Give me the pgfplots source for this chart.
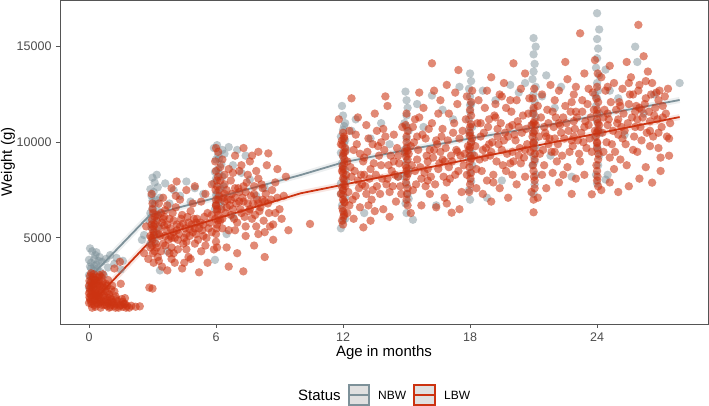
\documentclass[border=0pt]{standalone}
\usepackage{pgfplots}
\pgfplotsset{compat=1.18}
\usepackage{fontspec}
\setmainfont{Liberation Sans}
\definecolor{nbw}{HTML}{7D9199}
\definecolor{lbw}{HTML}{CC3311}
\definecolor{gtxt}{HTML}{4D4D4D}
\definecolor{gframe}{HTML}{555555}
\begin{document}
\begin{tikzpicture}
\begin{axis}[
  at={(0pt,0pt)}, anchor=south west,
  scale only axis, width=648pt, height=324pt,
  xmin=-1.37, xmax=29.24, ymin=497, ymax=17442,
  xtick={0,6,12,18,24}, xticklabels={0,6,12,18,24},
  ytick={5000,10000,15000}, yticklabels={5000,10000,15000},
  tick align=outside, tick pos=left, major tick length=4pt,
  axis line style={gframe, line width=0.9pt},
  every tick/.style={gframe, line width=0.9pt},
  ticklabel style={font=\fontsize{12.5}{14}\selectfont, text=gtxt},
  yticklabel style={xshift=-1pt},
  xticklabel style={yshift=-1pt},
  xlabel={Age in months}, ylabel={Weight (g)},
  label style={font=\fontsize{15}{17}\selectfont},
  xlabel style={at={(axis description cs:0.5,0)}, anchor=center, yshift=-29pt},
  ylabel style={at={(axis description cs:0,0.5)}, anchor=center, yshift=52pt},
  clip=true,
]
% NBW points
\addplot[only marks, mark=*, mark size=4.2pt, color=nbw, mark options={draw opacity=0, fill=nbw, fill opacity=0.5}] coordinates {
(0.0,2400)(0.05,2650)(0.1,2900)(0.15,3100)(0.2,3300)(0.05,3500)(0.1,3700)(0.25,3900)(0.3,4100)(0.15,4300)(0.05,4450)(0.35,3600)(0.4,3400)(0.45,3800)(0.5,4000)(0.55,3200)(0.3,2800)(0.2,2550)(0.0,3050)(0.1,3400)(0.25,3550)(0.6,3750)(0.35,4250)(0.45,2950)(0.0,3850)
(0.8,3900)(1.0,4100)(1.2,3650)(1.5,3350)(0.9,3450)(1.3,3950)(0.7,3050)(1.6,3800)
(2.9,4700)(3.0,5000)(3.1,5300)(2.95,5550)(3.05,5800)(3.2,6050)(2.9,6300)(3.0,6550)(3.1,6750)(3.15,7000)(2.95,7200)(3.05,7400)(3.25,7650)(3.1,7900)(3.0,8150)(3.2,8300)(3.3,6400)(2.85,5900)(3.2,5200)(3.35,7100)(3.1,4800)(3.0,6950)(2.9,7550)(3.15,6200)(3.3,5600)
(3.6,7850)(4.0,7500)(4.6,7950)(4.3,7200)(3.8,6800)(5.0,7600)(5.4,7300)(3.35,3300)(2.6,5150)(2.5,4900)(4.8,6900)(3.7,4300)
(5.95,6500)(6.0,6800)(6.1,7100)(6.05,7350)(6.2,7600)(5.9,7850)(6.0,8100)(6.15,8350)(6.1,8600)(6.25,8850)(6.0,9100)(6.1,9350)(6.3,9600)(6.05,9850)(6.2,6900)(6.35,7700)(5.95,8450)(6.3,8200)(6.15,9150)(6.4,9400)(6.0,7250)(6.25,6650)(5.9,9700)
(6.6,9750)(7.0,9600)(7.4,9300)(6.8,8800)(7.2,8400)(7.6,8050)(5.95,3850)(6.5,5200)(6.8,6100)(7.9,7200)(8.3,7600)
(11.9,5500)(12.0,5900)(12.05,6300)(11.95,6700)(12.1,7100)(12.0,7500)(11.9,7850)(12.05,8200)(12.1,8550)(11.95,8900)(12.0,9250)(12.15,9600)(12.05,9950)(11.9,10300)(12.0,10650)(12.1,11000)(12.0,11400)(11.95,11900)(12.1,6000)(11.9,7300)(12.15,8000)(12.0,8700)(11.9,9450)(12.1,10100)(12.05,10850)
(12.6,11200)(13.3,10200)(13.8,11000)(12.4,10600)(14.2,9900)(13.0,6300)(14.6,8200)
(15.0,6300)(14.95,6800)(15.05,7300)(15.0,7800)(14.9,8200)(15.1,8600)(15.0,9000)(14.95,9400)(15.05,9800)(15.0,10200)(15.1,10600)(14.9,11000)(15.0,11400)(15.05,11800)(15.0,12200)(14.95,12650)(15.1,7050)(14.9,9600)(15.0,10800)(15.05,8400)
(15.5,12000)(16.2,12450)(16.7,11700)(15.8,10800)(16.4,6700)(17.2,11200)(15.3,5950)
(18.0,7000)(17.95,7500)(18.05,7950)(18.0,8400)(18.1,8800)(17.95,9200)(18.0,9600)(18.05,10000)(18.0,10400)(18.1,10800)(17.95,11200)(18.0,11600)(18.05,12000)(18.0,12400)(17.95,12800)(18.05,13200)(18.0,13600)(18.1,9400)(17.95,10600)(18.0,11950)
(18.6,12700)(19.2,12200)(19.9,13000)(18.8,7100)(19.5,8000)(20.3,12600)(17.5,12900)
(21.0,7300)(21.05,7800)(21.1,8300)(20.95,8800)(21.0,9300)(21.1,9700)(21.05,10100)(21.0,10500)(20.95,10900)(21.1,11300)(21.0,11700)(21.05,12100)(21.0,12500)(21.1,12900)(20.95,13300)(21.0,13700)(21.05,14100)(21.0,14600)(21.1,15000)(21.0,15450)(21.05,9000)(20.95,11500)
(21.4,12400)(21.6,13500)(22.0,11800)(22.3,12900)(21.8,9300)(20.6,13100)(22.8,8200)
(24.0,7850)(23.95,8300)(24.05,8800)(24.1,9300)(24.0,9800)(23.9,10250)(24.05,10700)(24.0,11100)(24.1,11500)(23.95,11900)(24.0,12300)(24.05,12700)(24.0,13100)(24.1,13500)(23.95,13900)(24.0,14400)(24.05,14900)(24.0,15400)(24.1,15900)(24.0,16750)(24.15,10500)(23.9,12500)(24.05,9600)
(24.4,13800)(24.6,12700)(25.0,12300)(25.8,15000)(25.9,14200)(25.3,10400)(26.2,11500)(24.5,8300)(27.9,13100)(26.7,12500)(24.4,8050)
};
% LBW points
\addplot[only marks, mark=*, mark size=4.2pt, color=lbw, mark options={draw opacity=0, fill=lbw, fill opacity=0.58}] coordinates {
(0.0,1600)(0.05,1800)(0.1,2000)(0.15,2200)(0.2,2400)(0.25,2600)(0.3,2800)(0.0,2100)(0.05,2350)(0.1,2700)(0.15,1900)(0.2,1700)(0.25,1500)(0.3,2100)(0.35,2300)(0.4,1800)(0.45,2000)(0.5,2500)(0.55,1650)(0.6,2200)(0.35,2650)(0.4,2950)(0.05,3000)(0.1,3150)(0.2,2950)(0.0,2500)(0.45,1550)(0.5,1900)(0.6,1700)(0.7,2000)(0.75,1500)(0.8,1750)(0.7,2400)(0.85,2200)(0.9,1600)(1.0,1400)(1.1,1650)(1.2,1450)(1.3,1550)(1.4,1350)(1.5,1500)(1.6,1400)(1.7,1550)(1.8,1450)(2.0,1450)(2.2,1400)(2.4,1420)(1.0,1900)(1.2,2200)(1.5,2600)(1.46,3750)(1.2,3400)(0.9,2800)(0.65,3100)(1.7,1850)(0.3,1400)(0.15,1350)(0.55,1350)
(0.08,1700)(0.18,2050)(0.28,2250)(0.38,2500)(0.48,2750)(0.58,2950)(0.12,2450)(0.22,2800)(0.32,1950)(0.42,2150)(0.52,2300)(0.62,2550)(0.02,1900)(0.12,1550)(0.27,1750)(0.47,1750)(0.67,1900)(0.77,2300)(0.87,1900)(0.97,1700)(1.07,1500)(0.62,1500)(0.37,1600)(0.22,3100)(0.02,2750)(0.5,3050)(0.8,2600)(1.1,2500)(1.3,1800)(1.6,1650)(1.9,1350)(1.25,1350)(0.95,1350)
(0.75,1650)(0.85,1450)(0.95,2050)(1.05,1800)(1.15,1600)(1.25,1950)(1.35,1700)(1.45,1450)(1.55,1800)(1.65,1550)(1.75,1350)(1.05,2300)(0.85,2500)(0.65,2700)(0.45,2600)(0.25,2050)(0.05,2200)(0.15,2600)(0.35,1950)(0.55,2100)
(2.9,4500)(3.0,4900)(3.05,5300)(2.95,5700)(3.1,6100)(3.0,6500)(2.9,5100)(3.1,4300)(3.2,5900)(3.3,5500)(3.4,6300)(3.5,4700)(3.6,5100)(3.7,5700)(3.8,6000)(3.9,4500)(4.0,5300)(4.1,6600)(4.2,4900)(4.3,5600)(4.4,6200)(4.5,5000)(4.6,4400)(4.7,5800)(4.8,6400)(4.9,5300)(5.0,4700)(5.1,6000)(5.2,5500)(5.3,6900)(5.4,5100)(5.5,4600)(5.6,6300)(5.7,5800)(5.8,5300)(5.9,4400)(6.0,6700)(3.25,4000)(3.45,3500)(3.7,3300)(4.05,3700)(4.4,3400)(4.8,3900)(5.2,3200)(5.6,3700)(2.85,2400)(3.0,2350)(2.6,4200)(2.7,5600)(3.5,7100)(3.9,7600)(4.14,7950)(4.6,7500)(5.0,7700)(5.5,7300)(5.8,7800)(3.3,6800)(4.3,7000)(4.7,4000)(3.6,6450)(4.0,4200)(5.3,4300)
(2.95,5000)(3.05,5600)(3.15,4700)(3.25,6200)(3.35,5100)(3.45,5800)(3.55,6100)(3.65,5400)(3.75,4900)(3.85,5500)(3.95,6300)(4.05,5000)(4.15,5700)(4.25,5200)(4.35,6000)(4.45,4700)(4.55,5500)(4.65,6100)(4.75,5100)(4.85,5700)(4.95,6000)(5.05,5200)(5.15,4900)(5.25,5800)(5.35,5400)(5.45,6100)(5.55,5000)(5.65,5500)(3.1,5700)(3.2,4500)(3.4,4300)(3.6,4600)(3.8,4200)(4.2,4400)(4.6,4800)(5.0,5500)(5.8,6200)(6.1,5900)(3.3,3800)(3.9,3900)(4.5,3700)(2.8,3900)(4.9,6800)(4.1,7200)(3.7,6700)
(3.02,4200)(2.97,4600)(3.06,5150)(3.0,5450)(2.98,5950)(3.04,6300)(3.0,6800)(2.96,7300)(3.05,3700)(3.3,5200)(3.55,5650)(3.85,5100)(4.15,5400)(4.45,5750)(4.75,5450)(5.05,5800)(3.5,6000)(4.0,5900)(4.6,5200)(5.4,5700)(3.9,5000)
(6.0,5200)(6.05,5700)(6.1,6200)(6.0,6700)(6.15,7200)(6.05,7700)(6.1,8200)(6.2,8700)(6.0,4800)(6.3,6000)(6.4,6900)(6.5,7500)(6.6,5400)(6.7,8000)(6.8,6500)(6.9,7100)(7.0,5800)(7.1,8500)(7.2,6300)(7.3,7700)(7.4,5100)(7.5,6800)(7.6,9000)(7.7,6000)(7.8,7300)(7.9,5600)(8.0,8100)(8.1,6600)(8.2,7600)(8.3,5300)(8.4,8800)(8.5,6300)(8.6,7000)(8.7,5700)(8.8,7900)(9.0,6500)(9.2,7200)(9.42,5400)(6.5,4500)(7.0,4200)(7.29,3250)(7.8,4600)(8.3,4000)(6.9,9300)(7.3,9700)(8.47,9420)(8.0,9500)(6.3,9100)(6.8,8400)(7.5,8300)(8.9,8600)(9.3,8200)(6.2,5900)(6.7,6200)(7.6,6500)(8.2,7000)(6.4,7800)(7.1,7400)(6.6,3500)(8.7,4900)
(6.05,6400)(6.1,7000)(6.15,7500)(6.2,8000)(6.25,6500)(6.35,7100)(6.45,6300)(6.55,7000)(6.65,6700)(6.75,7300)(6.85,6000)(6.95,6800)(7.05,7600)(7.15,6500)(7.25,7100)(7.35,6100)(7.45,7900)(7.55,6400)(7.65,7200)(7.75,6800)(7.85,6200)(7.95,7000)(8.05,6400)(8.15,7800)(8.25,5900)(8.35,7300)(8.45,6800)(8.55,5600)(8.65,7500)(8.8,6300)(6.3,5500)(6.9,5400)(7.4,5600)(8.0,5200)(6.6,8600)(7.2,8800)(7.9,8500)(6.1,9500)(6.4,8300)(7.7,9300)(8.9,7100)(9.1,6000)
(6.02,5500)(5.97,6000)(6.06,6500)(6.0,7000)(5.98,7500)(6.04,8000)(6.0,8500)(5.96,9000)(6.05,4500)(6.0,9700)(6.4,7300)(6.9,7600)(7.3,6900)(7.8,7700)(8.3,6900)(6.7,7000)(7.4,7400)(8.0,6800)(6.5,6600)(7.1,6900)
(11.95,5900)(12.0,6400)(12.05,6900)(11.9,7300)(12.1,7700)(12.0,8100)(11.95,8500)(12.05,8900)(12.0,9300)(12.1,9700)(11.95,10100)(12.0,10500)(12.05,6200)(12.0,7500)(12.4,8200)(12.6,7200)(12.8,9400)(13.0,8300)(13.2,6700)(13.4,9900)(13.6,7700)(13.8,8800)(14.0,10300)(14.2,7400)(14.4,9000)(14.6,8200)(14.8,10800)(12.3,10600)(12.7,11300)(13.1,10900)(13.5,11500)(14.1,11900)(12.5,6000)(12.96,5550)(13.3,5900)(13.9,6500)(14.5,6900)(12.2,9000)(12.9,7800)(13.7,9300)(14.3,8500)(12.5,9600)(13.1,7300)(14.7,7700)(12.8,6600)(13.6,10600)(12.4,12300)(11.8,11200)(10.44,5730)(14.0,12400)(13.3,8600)(12.15,8300)(11.9,9900)(14.9,9500)
(12.0,7000)(12.05,7800)(12.0,8600)(12.1,9500)(12.05,10200)(12.25,7400)(12.35,8700)(12.45,7000)(12.55,8500)(12.65,9900)(12.75,7600)(12.85,8300)(12.95,9000)(13.05,7700)(13.15,9500)(13.25,8100)(13.35,7000)(13.45,8900)(13.55,8300)(13.65,9800)(13.75,7300)(13.85,8100)(13.95,9600)(14.05,7800)(14.15,8800)(14.25,9300)(14.35,7700)(14.45,8300)(14.55,9700)(14.65,8900)(14.75,7300)(12.3,6700)(12.7,8000)(13.2,10200)(13.9,10700)(14.4,10400)(12.2,6300)(13.5,6400)(14.2,6100)(12.6,10400)
(12.02,6100)(11.97,6550)(12.08,6850)(12.0,7250)(11.96,7650)(12.06,8050)(12.0,8400)(11.98,8750)(12.07,9100)(12.02,9450)(11.97,9850)(12.05,10300)(12.0,5700)(13.0,9200)(13.8,10000)(14.6,9300)(13.4,7500)(14.1,8100)
(15.0,7000)(15.05,7600)(15.0,8200)(14.95,8800)(15.1,9400)(15.0,10000)(15.05,10600)(15.3,7500)(15.5,9100)(15.7,8100)(15.9,10200)(16.1,7300)(16.3,9600)(16.5,8600)(16.7,10700)(16.9,7900)(17.1,9300)(17.3,8300)(17.5,10200)(17.7,8800)(17.9,9800)(15.4,11200)(15.8,11800)(16.2,11000)(16.6,12200)(17.0,11500)(17.4,12000)(17.8,11200)(16.2,14130)(17.45,13780)(15.6,12600)(16.9,13000)(15.2,6300)(15.7,6700)(16.4,6600)(17.13,6320)(17.5,6500)(16.8,7100)(15.4,8500)(16.0,9000)(16.6,9500)(17.2,10500)(17.6,7400)(15.9,7700)(16.4,10100)(15.0,11500)(17.0,8700)(15.2,9800)(16.3,12700)(17.85,12400)
(15.0,8500)(15.05,9100)(15.0,9700)(15.25,8800)(15.35,10000)(15.45,7800)(15.55,9600)(15.65,8700)(15.75,10400)(15.85,8400)(15.95,9300)(16.05,10700)(16.15,8200)(16.25,9200)(16.35,7800)(16.45,9900)(16.55,8900)(16.65,10300)(16.75,8200)(16.85,9700)(16.95,10100)(17.05,8100)(17.15,9000)(17.25,11000)(17.35,9600)(17.45,8500)(17.55,9300)(17.65,10600)(17.75,9400)(17.85,8300)(15.6,11300)(16.5,11500)(17.3,12600)(15.3,10800)(16.9,6800)(16.0,8000)
(15.02,7300)(14.97,7900)(15.06,8350)(15.0,8650)(14.98,9250)(15.04,9550)(15.0,10300)(14.96,10900)(15.05,6700)(15.5,10300)(16.1,9600)(16.8,9000)(17.4,9500)(16.0,8600)(16.7,9100)
(18.0,7800)(18.05,8400)(18.0,9000)(17.95,9600)(18.1,10200)(18.0,10800)(18.05,11400)(18.3,8600)(18.5,10300)(18.7,9200)(18.9,11200)(19.1,8300)(19.3,10700)(19.5,9600)(19.7,11800)(19.9,8900)(20.1,10400)(20.3,9300)(20.5,11400)(20.7,9900)(20.9,10900)(18.4,12200)(18.8,12700)(19.2,12000)(19.6,13100)(20.05,14130)(20.4,12800)(20.8,12300)(18.6,7300)(19.0,6900)(19.4,7600)(19.8,7100)(20.2,7800)(20.6,8200)(18.2,9300)(18.9,9900)(19.6,10100)(20.3,10800)(19.2,11300)(18.5,11000)(20.0,9500)(19.0,13400)(20.6,13600)(18.8,8000)(19.7,8500)(20.4,8900)(18.1,12700)(19.4,12500)(20.9,7400)(19.9,12200)
(18.0,9300)(18.05,10000)(18.0,10500)(18.25,9800)(18.35,11000)(18.45,9100)(18.55,8500)(18.65,10500)(18.75,9700)(18.85,10800)(18.95,9300)(19.05,10000)(19.15,11400)(19.25,9000)(19.35,9900)(19.45,11000)(19.55,8800)(19.65,10500)(19.75,9400)(19.85,10800)(19.95,11600)(20.05,9000)(20.15,10100)(20.25,11100)(20.35,9700)(20.45,10500)(20.55,9200)(20.65,10700)(20.75,11500)(20.85,9500)(18.7,11800)(19.5,12400)(20.2,12200)(19.1,7900)(20.0,8300)(18.3,7600)
(18.02,8100)(17.97,8700)(18.06,9150)(18.0,9750)(17.98,10350)(18.04,10950)(18.0,11700)(17.96,7400)(18.05,12100)(18.6,9600)(19.3,10300)(20.0,10900)(20.6,9600)(19.0,9500)(19.8,10300)
(21.0,8500)(21.05,9100)(21.0,9700)(20.95,10300)(21.1,10900)(21.0,11500)(21.05,8000)(21.3,9400)(21.5,10800)(21.7,9900)(21.9,11600)(22.1,9000)(22.3,10500)(22.5,11900)(22.7,9500)(22.9,11100)(23.1,10100)(23.3,12200)(23.5,9700)(23.7,11300)(23.9,10600)(21.4,12500)(21.8,13000)(22.2,12700)(22.6,13300)(23.0,12900)(23.4,13600)(23.8,12600)(23.2,15700)(22.5,14200)(21.0,6340)(21.6,7600)(22.2,7900)(22.8,7300)(23.75,7280)(23.4,8300)(21.9,8400)(22.6,8700)(23.0,8100)(21.2,11900)(22.0,10200)(22.9,10300)(23.6,10900)(21.7,11000)(22.4,11300)(23.3,11600)(21.4,8300)(22.8,12100)(23.9,14300)(21.2,7100)
(21.0,10000)(21.05,10600)(21.0,11000)(21.25,10300)(21.35,11300)(21.45,9600)(21.55,10500)(21.65,11700)(21.75,10200)(21.85,9500)(21.95,10800)(22.05,11300)(22.15,9900)(22.25,10900)(22.35,9300)(22.45,10200)(22.55,11000)(22.65,10600)(22.75,11600)(22.85,9800)(22.95,10700)(23.05,11300)(23.15,9400)(23.25,10500)(23.35,10000)(23.45,11100)(23.55,12000)(23.65,10200)(23.75,9500)(23.85,11700)(22.0,12200)(22.9,12500)(23.6,12800)(21.5,8800)(22.4,8300)(23.2,9000)
(21.02,8200)(20.97,8800)(21.06,9400)(21.0,9950)(20.98,10500)(21.04,11100)(21.0,11800)(20.96,12300)(21.05,7600)(21.0,7000)(21.03,12800)(21.6,10300)(22.2,11000)(22.8,10100)(23.4,10800)(22.0,9500)(23.0,11600)
(24.0,8500)(24.05,9100)(24.0,9700)(23.95,10300)(24.1,10900)(24.0,11500)(24.05,12100)(24.0,8000)(24.3,9500)(24.5,10900)(24.7,9900)(24.9,11700)(25.1,9100)(25.3,10600)(25.5,12000)(25.7,9600)(25.9,11200)(26.1,10100)(26.3,12300)(26.5,9800)(26.7,11400)(26.9,10500)(27.1,11900)(27.3,10300)(27.45,11000)(24.4,12700)(24.8,13100)(25.2,12800)(25.6,13400)(26.0,13000)(26.4,13700)(26.8,12600)(27.2,12400)(25.95,16140)(25.4,14200)(26.2,14500)(24.6,14000)(24.2,7500)(24.6,7900)(25.0,7400)(25.5,7700)(26.0,8100)(26.6,7890)(27.0,8500)(27.4,9300)(24.8,8600)(25.4,8800)(26.3,8700)(27.0,9200)(25.0,10400)(25.8,10800)(26.5,11100)(24.3,11300)(25.1,11900)(26.0,11800)(26.9,12200)(27.35,12800)(24.2,13400)(25.7,12500)(26.6,13100)
(24.0,10000)(24.05,10600)(24.0,11200)(24.25,10500)(24.35,11700)(24.45,10000)(24.55,11200)(24.65,12100)(24.75,10600)(24.85,9500)(24.95,11000)(25.05,12100)(25.15,10800)(25.25,11500)(25.35,9900)(25.45,11000)(25.55,12500)(25.65,11300)(25.75,10300)(25.85,11900)(25.95,12700)(26.05,10800)(26.15,11300)(26.25,12000)(26.35,10500)(26.45,11600)(26.55,12500)(26.65,10300)(26.75,11800)(26.85,11200)(26.95,12700)(27.05,10800)(27.25,11500)(27.4,10200)(25.5,13100)(26.3,13200)(24.6,9200)(25.9,9500)(26.9,9700)(24.5,12900)
(24.02,8200)(23.97,8800)(24.06,9400)(24.0,9950)(23.98,10500)(24.04,11000)(24.0,11700)(23.96,12300)(24.05,7700)(24.0,12900)(24.03,13600)(24.5,11500)(25.2,10200)(25.8,11600)(26.5,10600)(27.1,11300)(25.0,11200)(26.1,11700)
};
% confidence ribbons (approximate, as wide translucent strokes)
\addplot[no marks, line width=6pt, color=nbw, opacity=0.15] coordinates {(0,2887)(2.88,6198)(6,7100)(10,8290)(12,8950)(15,9600)(18,10200)(21.3,10816)(24,11400)(27.9,12212)};
\addplot[no marks, line width=6pt, color=lbw, opacity=0.12] coordinates {(0.3,1800)(3,4960)(4.77,5586)(10,7333)(15,8450)(21.3,9859)(27.9,11320)};
% fitted lines
\addplot[no marks, line width=1.8pt, color=nbw] coordinates {(0,2887)(2.88,6198)(6,7100)(10,8290)(12,8950)(15,9600)(18,10200)(21.3,10816)(24,11400)(27.9,12212)};
\addplot[no marks, line width=1.8pt, color=lbw] coordinates {(0.3,1800)(3,4960)(4.77,5586)(10,7333)(15,8450)(21.3,9859)(27.9,11320)};
\end{axis}
% legend
\node[anchor=west, inner sep=0pt, font=\fontsize{15}{17}\selectfont] at (238pt,-71pt) {Status};
\draw[nbw, line width=1.2pt, fill=black!12] (289pt,-81pt) rectangle (309pt,-61pt);
\draw[nbw, line width=1.8pt] (289pt,-71pt) -- (309pt,-71pt);
\node[anchor=west, inner sep=0pt, font=\fontsize{12}{14}\selectfont] at (318pt,-71pt) {NBW};
\draw[lbw, line width=1.2pt, fill=black!12] (354pt,-81pt) rectangle (375pt,-61pt);
\draw[lbw, line width=1.8pt] (354pt,-71pt) -- (375pt,-71pt);
\node[anchor=west, inner sep=0pt, font=\fontsize{12}{14}\selectfont] at (384pt,-71pt) {LBW};
\pgfresetboundingbox
\path[use as bounding box] (-60pt,-82pt) rectangle (649pt,324pt);
\end{tikzpicture}
\end{document}
